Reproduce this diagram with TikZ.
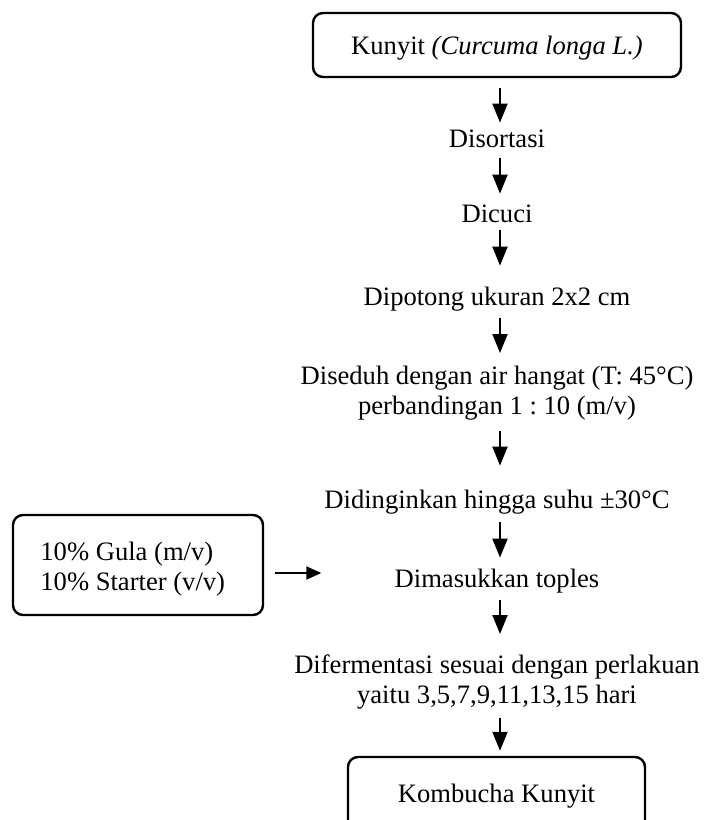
\documentclass[tikz,border=0pt]{standalone}
\usepackage{fontspec}
\setmainfont{Liberation Serif}
\usetikzlibrary{arrows.meta}
\frenchspacing
\begin{document}
\begin{tikzpicture}[x=0.5pt,y=-0.5pt,
  txt/.style={font=\fontsize{13.3pt}{15pt}\selectfont, inner sep=0pt},
  stepnode/.style={txt, text height=9pt, text depth=3pt, anchor=base},
  multinode/.style={txt, align=center, anchor=north},
  roundbox/.style={draw, line width=1.2pt, rounded corners=5pt, inner sep=0pt},
  arr/.style={line width=1pt, -{Triangle[length=9.5pt,width=7.5pt]}},
  harr/.style={line width=1pt, -{Triangle[length=7.5pt,width=6.5pt]}}]
\useasboundingbox (0,0) rectangle (704,820);
\coordinate (ax) at (500,0);
% main column
\node[roundbox, txt, minimum width=184pt, minimum height=32pt, text height=12pt, text depth=3pt] (k0) at (497,45) {Kunyit \textit{(Curcuma longa L.)}};
\node[stepnode] (k1) at (497,147) {Disortasi};
\node[stepnode] (k2) at (497,222) {Dicuci};
\node[stepnode] (k3) at (497,305) {Dipotong ukuran 2x2 cm};
\node[multinode] (k4) at (497,366) {Diseduh dengan air hangat (T: 45°C)\\perbandingan 1 : 10 (m/v)};
\node[stepnode] (k5) at (497,508) {Didinginkan hingga suhu ±30°C};
\node[stepnode] (k6) at (497,587) {Dimasukkan toples};
\node[multinode] (k7) at (497,654) {Difermentasi sesuai dengan perlakuan\\yaitu 3,5,7,9,11,13,15 hari};
\node[roundbox, txt, minimum width=148.5pt, minimum height=43pt, text height=6pt, text depth=4pt] (k8) at (496.5,800) {Kombucha Kunyit};
% side input
\node[roundbox, minimum width=125pt, minimum height=50pt] (lb) at (138,565) {};
\node[txt, align=left, anchor=north west] (lt) at (40,542) {10\% Gula (m/v)\\10\% Starter (v/v)};
% arrows
\draw[arr, shorten <=5pt, shorten >=3pt] (k0.south -| ax) -- (k1.north -| ax);
\draw[arr, shorten <=2.5pt, shorten >=5pt] (k1.south -| ax) -- (k2.north -| ax);
\draw[arr, shorten <=1pt, shorten >=10.5pt] (k2.south -| ax) -- (k3.north -| ax);
\draw[arr, shorten <=3.5pt, shorten >=6.5pt] (k3.south -| ax) -- (k4.north -| ax);
\draw[arr, shorten <=5pt, shorten >=12pt] (k4.south -| ax) -- (k5.north -| ax);
\draw[arr, shorten <=4pt, shorten >=5.5pt] (k5.south -| ax) -- (k6.north -| ax);
\draw[arr, shorten <=3.5pt, shorten >=10pt] (k6.south -| ax) -- (k7.north -| ax);
\draw[arr, shorten <=4.5pt, shorten >=2.5pt] (k7.south -| ax) -- (k8.north -| ax);
\draw[harr, shorten <=5.5pt, shorten >=36.5pt] ([yshift=-4pt]lb.east) -- ([yshift=-4pt]lb.east -| k6.west);
\end{tikzpicture}
\end{document}
